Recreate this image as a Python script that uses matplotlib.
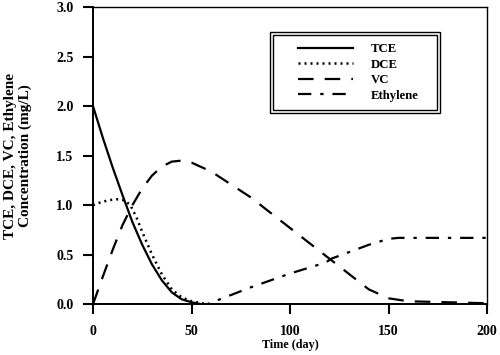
import numpy as np
import matplotlib
matplotlib.use('Agg')
import matplotlib.pyplot as plt
from matplotlib.patches import Rectangle

# values
t_tce = [0, 5, 10, 15, 20, 25, 30, 35, 40, 45, 50, 55]
tce = [2.0, 1.68, 1.38, 1.1, 0.83, 0.6, 0.4, 0.24, 0.12, 0.05, 0.02, 0.0]

t_dce = [0, 4, 8, 12, 16, 19, 22, 25, 30, 35, 40, 45, 50, 55, 60]
dce = [1.0, 1.03, 1.05, 1.06, 1.05, 1.0, 0.88, 0.73, 0.5, 0.3, 0.15, 0.07, 0.03, 0.01, 0.0]

t_vc = [0, 5, 10, 15, 20, 25, 30, 35, 40, 45, 50, 60, 80, 100, 120, 140, 150, 160, 180, 200]
vc = [0.0, 0.28, 0.55, 0.8, 1.0, 1.17, 1.3, 1.39, 1.44, 1.45, 1.43, 1.34, 1.08, 0.77, 0.46, 0.15, 0.06, 0.03, 0.02, 0.01]

t_eth = [0, 55, 58, 80, 100, 118, 121, 140, 150, 155, 200]
eth = [0.0, 0.0, 0.0, 0.17, 0.31, 0.42, 0.46, 0.6, 0.66, 0.67, 0.67]

series_names = ['TCE', 'DCE', 'VC', 'Ethylene']

plt.rcParams['font.family'] = ['Liberation Serif', 'DejaVu Serif']
plt.rcParams['font.weight'] = 'bold'

fig = plt.figure(figsize=(5, 3.55), dpi=100)
ax = fig.add_axes([0.186, 0.143, 0.788, 0.837])

ax.plot(t_tce, tce, color='black', lw=1.6, linestyle='-', label=series_names[0])
ax.plot(t_dce, dce, color='black', lw=1.8, linestyle=(0, (0.8, 1.6)), label=series_names[1])
ax.plot(t_vc, vc, color='black', lw=1.6, linestyle=(0, (7, 5)), label=series_names[2])
ax.plot(t_eth, eth, color='black', lw=1.6, linestyle=(0, (6, 4, 1.5, 4)), label=series_names[3])

ax.set_xlim(0, 200)
ax.set_ylim(0, 3.0)
ax.set_xticks([0, 50, 100, 150, 200])
ax.set_yticks([0.0, 0.5, 1.0, 1.5, 2.0, 2.5, 3.0])
ax.set_yticklabels(['0.0', '0.5', '1.0', '1.5', '2.0', '2.5', '3.0'])
ax.tick_params(direction='out', length=7, width=1.5, labelsize=10)
ax.tick_params(axis='x', pad=8)
ax.tick_params(axis='y', pad=7)
for lab in ax.get_xticklabels() + ax.get_yticklabels():
    lab.set_fontweight('bold')

ax.spines['left'].set_linewidth(1.4)
ax.spines['bottom'].set_linewidth(1.4)
ax.spines['top'].set_linewidth(1.0)
ax.spines['right'].set_linewidth(1.0)

ax.set_xlabel('Time (day)', fontsize=8.7, fontweight='bold', labelpad=0)
ax.xaxis.set_label_coords(0.5, -0.118)
ax.set_ylabel('TCE, DCE, VC, Ethylene\nConcentration (mg/L)', fontsize=11,
              fontweight='bold', linespacing=1.1)
ax.yaxis.set_label_coords(-0.155, 0.5)

leg = ax.legend(loc='upper left', bbox_to_anchor=(0.52, 0.878), frameon=False,
                fontsize=9.2, handlelength=4.3, handletextpad=1.4,
                borderpad=0, labelspacing=0.27, borderaxespad=0)
for txt in leg.get_texts():
    txt.set_fontweight('bold')

# double-line legend frame
ax.add_patch(Rectangle((0.449, 0.643), 0.432, 0.273, transform=ax.transAxes,
                       fill=False, edgecolor='black', lw=1.0, zorder=10))
ax.add_patch(Rectangle((0.457, 0.653), 0.416, 0.253, transform=ax.transAxes,
                       fill=False, edgecolor='black', lw=1.0, zorder=10))

plt.savefig('out.png', dpi=100)
